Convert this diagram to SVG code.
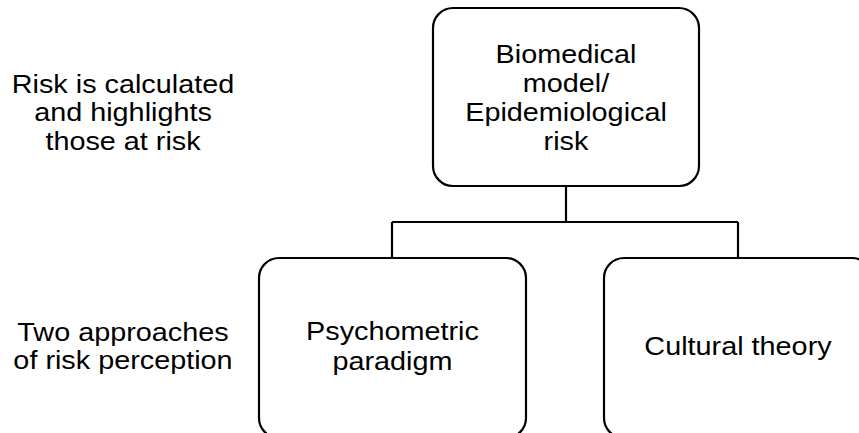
<svg xmlns="http://www.w3.org/2000/svg" width="859" height="433" viewBox="0 0 859 433">
<style>
.box{fill:#fff;stroke:#000;stroke-width:2.2}
.conn{fill:none;stroke:#000;stroke-width:2.2}
text{font-family:"Liberation Sans",Arial,sans-serif;font-size:25.5px;fill:#000;text-anchor:middle}
</style>
<rect width="859" height="433" fill="#fff"/>
<g id="connectors">
<path class="conn" d="M566,186 V222 M392,222 H738 M392,222 V258 M738,222 V258"/>
</g>
<g id="label-top">
<text transform="translate(123,0) scale(1.13,1)"><tspan x="0" y="93">Risk is calculated</tspan><tspan x="0" y="121.5">and highlights</tspan><tspan x="0" y="150">those at risk</tspan></text>
</g>
<g id="label-bottom">
<text transform="translate(123,0) scale(1.13,1)"><tspan x="0" y="341">Two approaches</tspan><tspan x="0" y="369.5">of risk perception</tspan></text>
</g>
<g id="node-biomedical">
<rect class="box" x="433" y="8" width="266" height="178" rx="20"/>
<text transform="translate(566,0) scale(1.13,1)"><tspan x="0" y="63.5">Biomedical</tspan><tspan x="0" y="92.5">model/</tspan><tspan x="0" y="121">Epidemiological</tspan><tspan x="0" y="150.5">risk</tspan></text>
</g>
<g id="node-psychometric">
<rect class="box" x="259" y="258" width="267" height="180" rx="20"/>
<text transform="translate(392.5,0) scale(1.13,1)"><tspan x="0" y="340">Psychometric</tspan><tspan x="0" y="370">paradigm</tspan></text>
</g>
<g id="node-cultural">
<rect class="box" x="604" y="258" width="268" height="180" rx="20"/>
<text transform="translate(738,0) scale(1.13,1)" x="0" y="355.5">Cultural theory</text>
</g>
</svg>
